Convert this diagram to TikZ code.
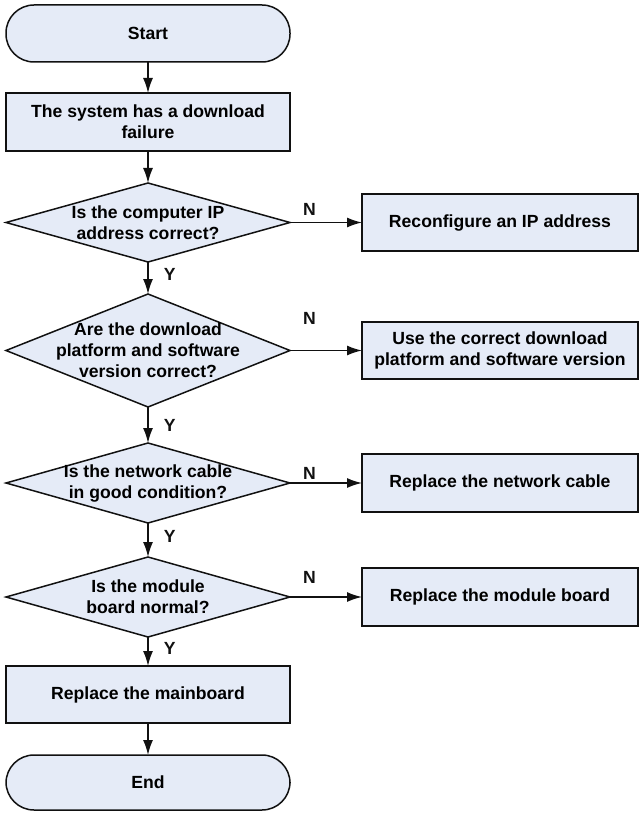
\documentclass[tikz,border=0pt]{standalone}
\usepackage{fontspec}
\setmainfont{Liberation Sans}
\usepackage{xcolor}
\usepackage{tikz}
\usetikzlibrary{shapes.geometric, arrows.meta, positioning}
\definecolor{FC_LINE}{HTML}{111111}
\definecolor{FC_FILL}{HTML}{E5EBF7}
\tikzset{
  term/.style={
    rectangle, rounded corners=28pt, outer sep=0pt,
    minimum width=284pt, minimum height=57pt,
    text centered, align=center,
    draw=FC_LINE, line width=1.5pt, fill=FC_FILL,
    font=\bfseries\fontsize{17.6}{21}\selectfont},
  proc/.style={
    rectangle, inner sep=4pt, outer sep=0pt,
    minimum width=284pt, minimum height=58pt,
    text centered, align=center,
    draw=FC_LINE, line width=1.5pt, fill=FC_FILL,
    font=\bfseries\fontsize{17.6}{21}\selectfont},
  fix/.style={
    proc, minimum width=276pt, minimum height=57pt},
  cond/.style={
    diamond, aspect=2.5, inner sep=-30pt, outer sep=0pt,
    minimum width=284pt, minimum height=80pt,
    text centered, align=center,
    draw=FC_LINE, line width=1.5pt, fill=FC_FILL,
    font=\bfseries\fontsize{17.6}{21}\selectfont},
  arr/.style={-{Latex[length=15pt,width=10pt]}, line width=1.5pt, color=FC_LINE},
  yn/.style={inner sep=2pt, font=\bfseries\fontsize{17.6}{21}\selectfont, color=FC_LINE},
}

\begin{document}
\begin{tikzpicture}[x=1pt, y=1pt]

  \useasboundingbox (0,0) rectangle (639,-813);

  \node[term] (start) at (148,-33.5) {Start};
  \node[proc, below=31pt of start] (fail) {The system has a download\\failure};
  \node[cond, below=32pt of fail, minimum height=79pt] (ipchk)
    {Is the computer IP\\address correct?};
  \node[cond, below=32pt of ipchk, minimum height=113pt] (verchk)
    {Are the download\\platform and software\\version correct?};
  \node[cond, below=36pt of verchk] (cablechk)
    {Is the network cable\\in good condition?};
  \node[cond, below=34pt of cablechk] (boardchk)
    {Is the module\\board normal?};
  \node[proc, below=29pt of boardchk, minimum height=57pt] (mainbd) {Replace the mainboard};
  \node[term, below=32pt of mainbd, minimum height=55pt] (stop) {End};

  \node[fix, right=72pt of ipchk] (ipfix) {Reconfigure an IP address};
  \node[fix, right=72pt of verchk] (verfix)
    {Use the correct download\\platform and software version};
  \node[fix, right=72pt of cablechk, minimum height=58pt] (cablefix) {Replace the network cable};
  \node[fix, right=72pt of boardchk, minimum height=58pt] (boardfix) {Replace the module board};

  \draw[arr] (start) -- (fail);
  \draw[arr] (fail) -- (ipchk);
  \draw[arr] (ipchk) -- node[yn, pos=0.4, right=13pt] {Y} (verchk);
  \draw[arr] (verchk) -- node[yn, pos=0.5, right=13pt] {Y} (cablechk);
  \draw[arr] (cablechk) -- node[yn, pos=0.4, right=13pt] {Y} (boardchk);
  \draw[arr] (boardchk) -- node[yn, pos=0.4, right=13pt] {Y} (mainbd);
  \draw[arr] (mainbd) -- (stop);

  \draw[arr] (ipchk) -- node[yn, pos=0.27, above=4.5pt] {N} (ipfix);
  \draw[arr] (verchk) -- node[yn, pos=0.27, above=23.5pt] {N} (verfix);
  \draw[arr] (cablechk) -- node[yn, pos=0.27, above=0.5pt] {N} (cablefix);
  \draw[arr] (boardchk) -- node[yn, pos=0.27, above=10.5pt] {N} (boardfix);

\end{tikzpicture}
\end{document}
